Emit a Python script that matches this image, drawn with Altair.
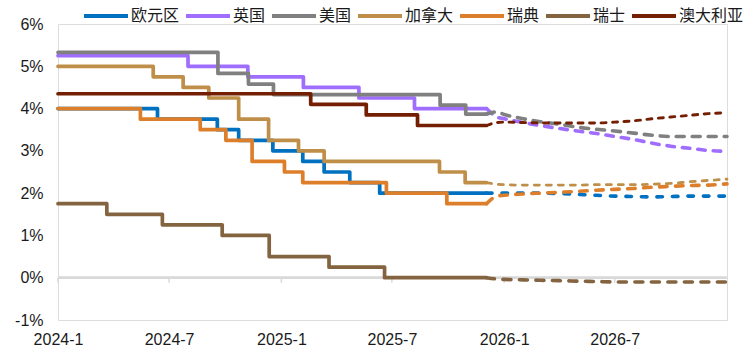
import altair as alt
import pandas as pd

names = ["欧元区", "英国", "美国", "加拿大", "瑞典", "瑞士", "澳大利亚"]
palette = ["#0070C0", "#A06EFF", "#808080", "#BF8F4A", "#DD7F2A", "#846440", "#741F02"]
dash_styles = [[5.5, 10], [7.5, 8], [8, 8], [5, 7], [7.5, 8.5], [8, 8.5], [5, 6.5]]
dash_widths = [3.6, 3.6, 3.6, 2.8, 3.6, 3.6, 2.9]

# actual policy rates (step changes)
euro_dates = ["2024-01-01", "2024-06-12", "2024-09-18", "2024-10-23", "2024-12-18",
              "2025-02-05", "2025-03-12", "2025-04-23", "2025-06-11"]
euro_vals = [4.00, 3.75, 3.50, 3.25, 3.00, 2.75, 2.50, 2.25, 2.00]
uk_dates = ["2024-01-01", "2024-08-01", "2024-11-07", "2025-02-06", "2025-05-08", "2025-08-07"]
uk_vals = [5.25, 5.00, 4.75, 4.50, 4.25, 4.00]
us_dates = ["2024-01-01", "2024-09-19", "2024-11-08", "2024-12-19", "2025-09-18", "2025-10-30"]
us_vals = [5.33, 4.83, 4.58, 4.33, 4.08, 3.87]
ca_dates = ["2024-01-01", "2024-06-05", "2024-07-24", "2024-09-04", "2024-10-23", "2024-12-11",
            "2025-01-29", "2025-03-12", "2025-09-17", "2025-10-29"]
ca_vals = [5.00, 4.75, 4.50, 4.25, 3.75, 3.25, 3.00, 2.75, 2.50, 2.25]
se_dates = ["2024-01-01", "2024-05-15", "2024-08-21", "2024-10-02", "2024-11-14",
            "2025-01-06", "2025-02-05", "2025-06-22", "2025-09-29"]
se_vals = [4.00, 3.75, 3.50, 3.25, 2.75, 2.50, 2.25, 2.00, 1.75]
ch_dates = ["2024-01-01", "2024-03-21", "2024-06-20", "2024-09-26", "2024-12-12",
            "2025-03-20", "2025-06-19"]
ch_vals = [1.75, 1.50, 1.25, 1.00, 0.50, 0.25, 0.00]
au_dates = ["2024-01-01", "2025-02-18", "2025-05-20", "2025-08-12"]
au_vals = [4.35, 4.10, 3.85, 3.60]
actual_end = "2025-12-03"

# market-implied path (dashed)
fc_dates = ["2025-12-03", "2025-12-20", "2026-01-01", "2026-02-01", "2026-03-01", "2026-04-01",
            "2026-05-01", "2026-06-01", "2026-07-01", "2026-08-01", "2026-09-01", "2026-10-01",
            "2026-11-01", "2026-12-01", "2027-01-01"]
euro_fc = [2.00, 2.00, 2.00, 2.00, 2.00, 1.99, 1.97, 1.95, 1.93, 1.92, 1.91, 1.92, 1.93, 1.93, 1.93]
uk_fc = [4.00, 3.80, 3.76, 3.67, 3.60, 3.53, 3.47, 3.41, 3.34, 3.27, 3.18, 3.11, 3.06, 3.01, 2.99]
us_fc = [3.87, 3.92, 3.86, 3.76, 3.69, 3.63, 3.56, 3.51, 3.47, 3.42, 3.37, 3.34, 3.34, 3.34, 3.34]
ca_fc = [2.25, 2.21, 2.20, 2.19, 2.19, 2.19, 2.19, 2.20, 2.20, 2.20, 2.21, 2.23, 2.27, 2.30, 2.33]
se_fc = [1.75, 1.93, 1.95, 1.98, 2.00, 2.02, 2.04, 2.07, 2.09, 2.11, 2.14, 2.16, 2.18, 2.19, 2.22]
ch_fc = [0.00, -0.03, -0.04, -0.05, -0.06, -0.07, -0.08, -0.09, -0.10, -0.10, -0.10, -0.10, -0.10, -0.10, -0.10]
au_fc = [3.60, 3.67, 3.68, 3.67, 3.66, 3.66, 3.66, 3.66, 3.68, 3.71, 3.76, 3.80, 3.84, 3.88, 3.90]

tick_labels = ["2024-01-01", "2024-07-01", "2025-01-01", "2025-07-01", "2026-01-01", "2026-07-01"]
y_ticks = [-1, 0, 1, 2, 3, 4, 5, 6]

actual_sets = [(euro_dates, euro_vals), (uk_dates, uk_vals), (us_dates, us_vals),
               (ca_dates, ca_vals), (se_dates, se_vals), (ch_dates, ch_vals), (au_dates, au_vals)]
fc_sets = [euro_fc, uk_fc, us_fc, ca_fc, se_fc, ch_fc, au_fc]

rows = []
for name, (ds, vs) in zip(names, actual_sets):
    for d, v in zip(ds + [actual_end], vs + [vs[-1]]):
        rows.append({"国家": name, "date": d + "T00:00:00", "rate": v})
actual_df = pd.DataFrame(rows)

rows = []
for name, vs in zip(names, fc_sets):
    for d, v in zip(fc_dates, vs):
        rows.append({"预测": name, "date": d + "T00:00:00", "rate": v})
fc_df = pd.DataFrame(rows)

tick_df = pd.DataFrame({"date": [t + "T00:00:00" for t in tick_labels]})

FONT = "Liberation Sans, Arial, Noto Sans CJK SC"
CJK = "Noto Sans CJK SC, Liberation Sans"

def dt(s):
    y, m, d = [int(p) for p in s.split("-")]
    return alt.DateTime(year=y, month=m, date=d)

x_scale = alt.Scale(domain=[dt("2024-01-01"), dt("2027-01-01")])
y_scale = alt.Scale(domain=[-1, 6], nice=False, zero=False)

x_enc = alt.X("date:T", scale=x_scale,
              axis=alt.Axis(values=[dt(t) for t in tick_labels], format="%Y-%-m", title=None,
                            domain=False, ticks=False, grid=False, labelPadding=11,
                            labelFontSize=16, labelFont=FONT, labelColor="#1a1a1a",
                            labelFlush=False, labelOverlap=False))
y_enc = alt.Y("rate:Q", scale=y_scale,
              axis=alt.Axis(values=y_ticks, labelExpr="datum.value + '%'", title=None,
                            domain=False, ticks=False, grid=False, labelPadding=15,
                            labelFontSize=16, labelFont=FONT, labelColor="#1a1a1a"))

zero = alt.Chart(tick_df).mark_rule(color="#D9D9D9", strokeWidth=2).encode(y=alt.datum(0))
ticks = alt.Chart(tick_df).mark_rule(color="#D9D9D9", strokeWidth=1.5).encode(
    x=alt.X("date:T", scale=x_scale), y=alt.datum(0), y2=alt.datum(-0.12))

solid = alt.Chart(actual_df).mark_line(interpolate="step-after", strokeWidth=3.7,
                                       strokeJoin="round", strokeCap="round").encode(
    x=x_enc, y=y_enc,
    color=alt.Color("国家:N", scale=alt.Scale(domain=names, range=palette), sort=names,
                    legend=alt.Legend(title=None, orient="none", legendX=24, legendY=-32,
                                      direction="horizontal", columns=7, symbolType="stroke",
                                      symbolSize=1936, symbolStrokeWidth=4,
                                      labelFontSize=16, labelFont=CJK, labelColor="#1a1a1a",
                                      labelOffset=1, columnPadding=-2)))

dashed = alt.Chart(fc_df).mark_line(interpolate="monotone", strokeCap="round").encode(
    x=alt.X("date:T", scale=x_scale), y=alt.Y("rate:Q", scale=y_scale),
    color=alt.Color("预测:N", scale=alt.Scale(domain=names, range=palette), legend=None),
    strokeDash=alt.StrokeDash("预测:N", scale=alt.Scale(domain=names, range=dash_styles), legend=None),
    strokeWidth=alt.StrokeWidth("预测:N", scale=alt.Scale(type="ordinal", domain=names, range=dash_widths),
                                legend=None))

chart = alt.layer(zero, ticks, solid, dashed).resolve_scale(
    color="independent", strokeDash="independent", strokeWidth="independent"
).properties(
    width=669, height=296,
    autosize=alt.AutoSizeParams(type="none"),
    padding={"left": 58, "top": 24, "right": 23, "bottom": 33},
).configure_view(stroke=None).configure(background="white")

chart.save("out.html", embed_options={"renderer": "svg", "actions": False})
